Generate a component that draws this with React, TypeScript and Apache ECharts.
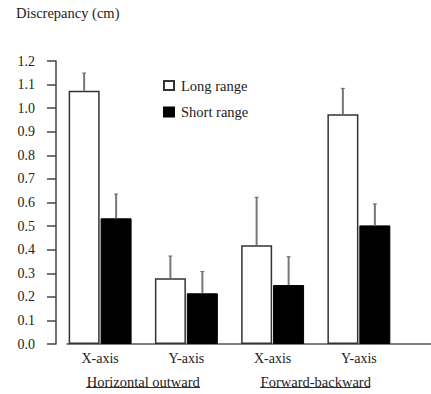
import React, { useEffect, useRef } from "react";
import * as echarts from "echarts";

const categories = ["X-axis", "Y-axis", "X-axis", "Y-axis"];
const groups = ["Horizontal outward", "Forward-backward"];
const longRange = [1.074, 0.279, 0.419, 0.974];
const longRangeErr = [0.075, 0.094, 0.203, 0.11];
const shortRange = [0.533, 0.215, 0.25, 0.503];
const shortRangeErr = [0.103, 0.092, 0.12, 0.091];
const yTicks = [0, 1.2, 0.1];

const FONT = "Liberation Serif";
const BAR_W = 32;

function errSeries(name: string, vals: number[], errs: number[], off: number, xIdx: number) {
  return {
    type: "custom",
    name: name + " err",
    xAxisIndex: xIdx,
    yAxisIndex: xIdx,
    z: 5,
    silent: true,
    encode: { x: 0, y: 1 },
    data: vals.map((v, i) => [i, v, errs[i]]),
    renderItem: (params: any, api: any) => {
      const i = api.value(0);
      const v = api.value(1);
      const e = api.value(2);
      const b = api.coord([i, v]);
      const t = api.coord([i, v + e]);
      const x = b[0] + off;
      return {
        type: "group",
        children: [
          {
            type: "line",
            shape: { x1: x, y1: b[1], x2: x, y2: t[1] },
            style: { stroke: "#777", lineWidth: 2 },
          },
          {
            type: "line",
            shape: { x1: x - 2, y1: t[1], x2: x + 2, y2: t[1] },
            style: { stroke: "#666", lineWidth: 1 },
          },
        ],
      };
    },
  };
}

export default function App() {
  const ref = useRef<HTMLDivElement>(null);
  useEffect(() => {
    document.body.style.margin = "0";
    const chart = echarts.init(ref.current!, null, { renderer: "svg" });
    const gridTop = 61;
    const gridBottom = 50;
    chart.setOption({
      animation: false,
      backgroundColor: "#fff",
      textStyle: { fontFamily: FONT },
      title: {
        text: "Discrepancy (cm)",
        left: 16,
        top: 5,
        padding: 0,
        textStyle: { fontFamily: FONT, fontSize: 14.5, fontWeight: "normal", color: "#222" },
      },
      legend: {
        orient: "vertical",
        left: 163,
        top: 78,
        padding: 0,
        icon: "rect",
        itemWidth: 10,
        itemHeight: 9,
        itemGap: 11.5,
        data: ["Long range", "Short range"],
        textStyle: { fontFamily: FONT, fontSize: 14.5, color: "#222", padding: [0, 0, 0, 2] },
      },
      grid: [
        { left: 57, width: 345, top: gridTop, bottom: gridBottom },
        { left: 67, right: 0, top: gridTop, bottom: gridBottom },
      ],
      xAxis: [
        {
          type: "category",
          gridIndex: 0,
          data: categories,
          axisLine: { show: false },
          axisTick: { show: false },
          axisLabel: { fontFamily: FONT, fontSize: 14, color: "#222", margin: 7 },
        },
        {
          type: "value",
          gridIndex: 1,
          min: 0,
          max: 1,
          axisLine: { show: true, lineStyle: { color: "#555", width: 1.5 } },
          axisTick: { show: false },
          axisLabel: { show: false },
          splitLine: { show: false },
        },
        {
          type: "category",
          gridIndex: 0,
          position: "bottom",
          data: groups,
          axisLine: { show: false },
          axisTick: { show: false },
          axisLabel: { fontFamily: FONT, fontSize: 14.5, color: "#222", margin: 30 },
        },
      ],
      yAxis: [
        {
          type: "value",
          gridIndex: 0,
          min: yTicks[0],
          max: yTicks[1],
          interval: yTicks[2],
          offset: 1,
          axisLine: { show: true, lineStyle: { color: "#444", width: 1.5 } },
          axisTick: { show: true, length: 9, lineStyle: { color: "#444", width: 1.5 } },
          axisLabel: {
            fontFamily: FONT,
            fontSize: 14,
            color: "#222",
            margin: 21,
            formatter: (v: number) => v.toFixed(1),
          },
          splitLine: { show: false },
        },
        {
          type: "value",
          gridIndex: 1,
          min: 0,
          max: 1,
          show: false,
        },
      ],
      series: [
        {
          type: "bar",
          name: "Long range",
          xAxisIndex: 0,
          yAxisIndex: 0,
          barWidth: BAR_W - 1,
          barGap: "3%",
          data: longRange,
          itemStyle: { color: "#fff", borderColor: "#333", borderWidth: 1.5 },
        },
        {
          type: "bar",
          name: "Short range",
          xAxisIndex: 0,
          yAxisIndex: 0,
          barWidth: BAR_W - 1,
          barGap: "3%",
          data: shortRange,
          itemStyle: { color: "#000", borderColor: "#000", borderWidth: 1 },
        },
        errSeries("Long range", longRange, longRangeErr, -BAR_W / 2, 0),
        errSeries("Short range", shortRange, shortRangeErr, BAR_W / 2, 0),
      ],
      graphic: [
        { type: "line", shape: { x1: 86, y1: 387.5, x2: 200, y2: 387.5 }, style: { stroke: "#333", lineWidth: 1 } },
        { type: "line", shape: { x1: 260, y1: 387.5, x2: 370, y2: 387.5 }, style: { stroke: "#333", lineWidth: 1 } },
      ],
    });
    return () => chart.dispose();
  }, []);
  return <div ref={ref} style={{ width: 431, height: 394 }} />;
}
